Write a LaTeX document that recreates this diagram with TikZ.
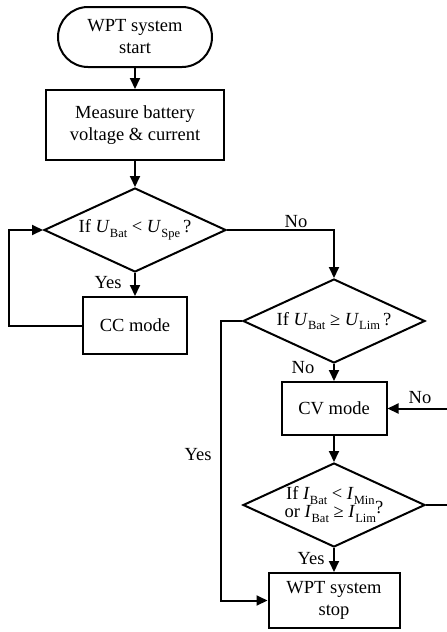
\documentclass[tikz,border=0pt]{standalone}
\usepackage{fontspec}
\setmainfont{Liberation Serif}
\usetikzlibrary{arrows.meta,shapes.geometric}
\newcommand\sbx[1]{\raisebox{-0.24em}{\fontsize{12.5}{12.5}\selectfont #1}}
\begin{document}
\begin{tikzpicture}[x=1pt,y=-1pt,
  every path/.style={line width=2pt},
  base/.style={draw, line width=2pt, inner sep=0pt, align=center, font=\fontsize{18.5}{22}\selectfont},
  termbox/.style={base, rounded corners=30pt},
  procbox/.style={base, rectangle},
  decision/.style={base, diamond, aspect=2.17, minimum width=182pt, minimum height=84pt},
  arr/.style={line width=2pt, -{Triangle[length=11pt,width=10pt]}},
  lbl/.style={font=\fontsize{18.5}{22}\selectfont, inner sep=0pt, anchor=base}
]
\useasboundingbox (0,0) rectangle (447,632);

\node[termbox, minimum width=154pt, minimum height=60pt] (start) at (135,37) {WPT system\\start};
\node[procbox, minimum width=178pt, minimum height=70pt] (meas) at (135,125) {Measure battery\\voltage \& current};
\node[decision] (d1) at (135,230) {If \textit{U}\sbx{Bat} < \textit{U}\sbx{Spe}\,?};
\node[procbox, minimum width=104pt, minimum height=57pt] (cc) at (135,325.5) {CC mode};
\node[decision] (d2) at (334,321) {If \textit{U}\sbx{Bat} ≥ \textit{U}\sbx{Lim}\,?};
\node[procbox, minimum width=105pt, minimum height=53pt] (cv) at (334,408.5) {CV mode};
\node[decision] (d3) at (334,505) {\fontsize{18.5}{18}\selectfont\begin{tabular}[b]{@{}c@{}}If \textit{I}\sbx{Bat} < \textit{I}\sbx{Min}\\or \textit{I}\sbx{Bat} ≥ \textit{I}\sbx{Lim}\end{tabular}\kern-1pt\raisebox{0.25em}{?}};
\node[procbox, minimum width=131pt, minimum height=55pt] (stop) at (334,600.5) {WPT system\\stop};

\coordinate (loopL) at (9,0);
\coordinate (yesL) at (221,0);
\coordinate (noR) at (449,0);

\draw[arr] (start) -- (meas);
\draw[arr] (meas) -- (d1);
\draw[arr] (d1) -- (cc);
\draw[arr] (cc.west) -- (cc.west -| loopL) -- (loopL |- d1.west) -- (d1.west);
\draw[arr] (d1.east) -| (d2.north);
\draw[arr] (d2) -- (cv);
\draw[arr] (d2.west) -- (d2.west -| yesL) -- (yesL |- stop.west) -- (stop.west);
\draw[arr] (cv) -- (d3);
\draw[arr] (d3) -- (stop);
\draw[arr] (d3.east) -- (d3.east -| noR) -- (noR |- cv.east) -- (cv.east);

\node[lbl] (l1) at (108,288) {Yes};
\node[lbl] (l2) at (296,227) {No};
\node[lbl] (l3) at (303,373) {No};
\node[lbl] (l4) at (198,460) {Yes};
\node[lbl] (l5) at (420,403) {No};
\node[lbl] (l6) at (311,564) {Yes};
\end{tikzpicture}
\end{document}
